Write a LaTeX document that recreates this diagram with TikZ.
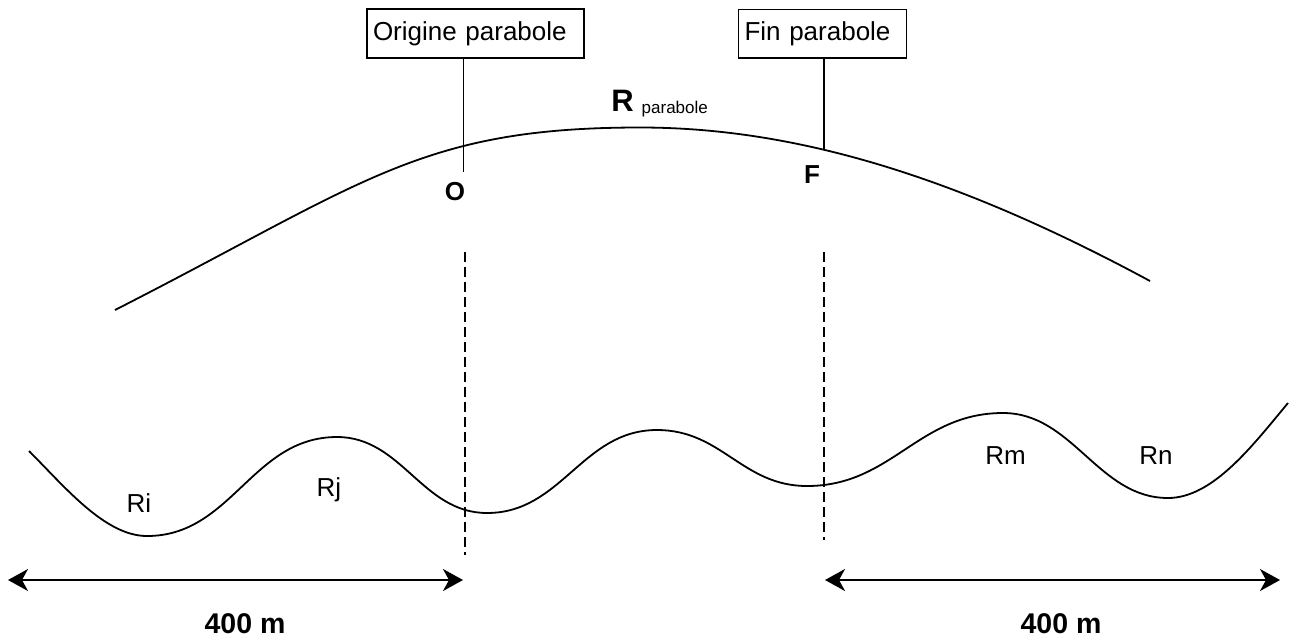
\documentclass[tikz,border=0pt]{standalone}
\usepackage{fontspec}
\setmainfont{Liberation Sans}
\usetikzlibrary{arrows.meta}
\begin{document}
\begin{tikzpicture}[x=1pt,y=-1pt,
  curve/.style={line width=1.8pt, line join=round},
  lbl/.style={font=\fontsize{26}{30}\selectfont, inner sep=0pt, anchor=base},
  blbl/.style={font=\fontsize{26}{30}\selectfont\bfseries, inner sep=0pt, anchor=base},
  dimlbl/.style={font=\fontsize{28.5}{32}\selectfont\bfseries, inner sep=0pt, anchor=base},
  tagbox/.style={draw, line width=1.6pt, font=\fontsize{26}{30}\selectfont, inner xsep=6pt, inner ysep=0pt, align=left, minimum height=48.5pt},
  leader/.style={line width=1.8pt},
  guide/.style={line width=1.8pt, dash pattern=on 10pt off 5pt},
  dimarrow/.style={line width=1.8pt, {Stealth[length=20pt,width=22pt,inset=6pt]}-{Stealth[length=20pt,width=22pt,inset=6pt]}}]
\useasboundingbox (0,0) rectangle (1295,638);

% label boxes
\node[tagbox, text width=205pt] (orig) at (475.5,33.5) {Origine parabole};
\node[tagbox, text width=156pt] (fin) at (822.5,33.8) {Fin parabole};
\coordinate (Obot) at (463.5,172);
\coordinate (Fbot) at (824,150);
\draw[leader] (orig.south -| Obot) -- (Obot);
\draw[leader] (fin.south -| Fbot) -- (Fbot);

% upper parabola
\draw[curve] (115,310)
  .. controls (365,182.5) and (420,127.5) .. (640,127.5)
  .. controls (790,127.5) and (950,173) .. (1150,281);

% labels on parabola
\node[blbl] (Olbl) at (455,200) {O};
\node[blbl] (Flbl) at (812,183) {F};
\node[font=\fontsize{31}{34}\selectfont\bfseries, inner sep=0pt, anchor=base] (Rlbl) at (622.5,111) {R};
\node[font=\fontsize{17}{20}\selectfont, inner sep=0pt, anchor=base west] (Rsub) at (641.5,113) {parabole};

% dashed guides
\coordinate (g1t) at (465,252);
\coordinate (g1b) at (465,555);
\coordinate (g2t) at (824,252);
\coordinate (g2b) at (824,540);
\draw[guide] (g1t) -- (g1b);
\draw[guide] (g2t) -- (g2b);

% lower wavy terrain
\draw[curve] (29,451)
  .. controls (65,487) and (105,536) .. (147,536)
  .. controls (232,536) and (252,437) .. (337,437)
  .. controls (402,437) and (422,513) .. (487,513)
  .. controls (562,513) and (582,430) .. (657,430)
  .. controls (722,430) and (742,486) .. (807,486)
  .. controls (892,486) and (918,413) .. (1003,413)
  .. controls (1073,413) and (1098,498) .. (1168,498)
  .. controls (1213,498) and (1253,445) .. (1288,403);

% terrain labels
\node[lbl] (Ri) at (139,512) {Ri};
\node[lbl] (Rj) at (329,496) {Rj};
\node[lbl] (Rm) at (1005.5,464) {Rm};
\node[lbl] (Rn) at (1156,464) {Rn};

% dimension arrows
\coordinate (a1l) at (8,580);
\coordinate (a1r) at (463,580);
\coordinate (a2l) at (825,580);
\coordinate (a2r) at (1280,580);
\draw[dimarrow] (a1l) -- (a1r);
\draw[dimarrow] (a2l) -- (a2r);
\node[dimlbl] (d1) at (245,633) {400 m};
\node[dimlbl] (d2) at (1061,633) {400 m};
\end{tikzpicture}
\end{document}
